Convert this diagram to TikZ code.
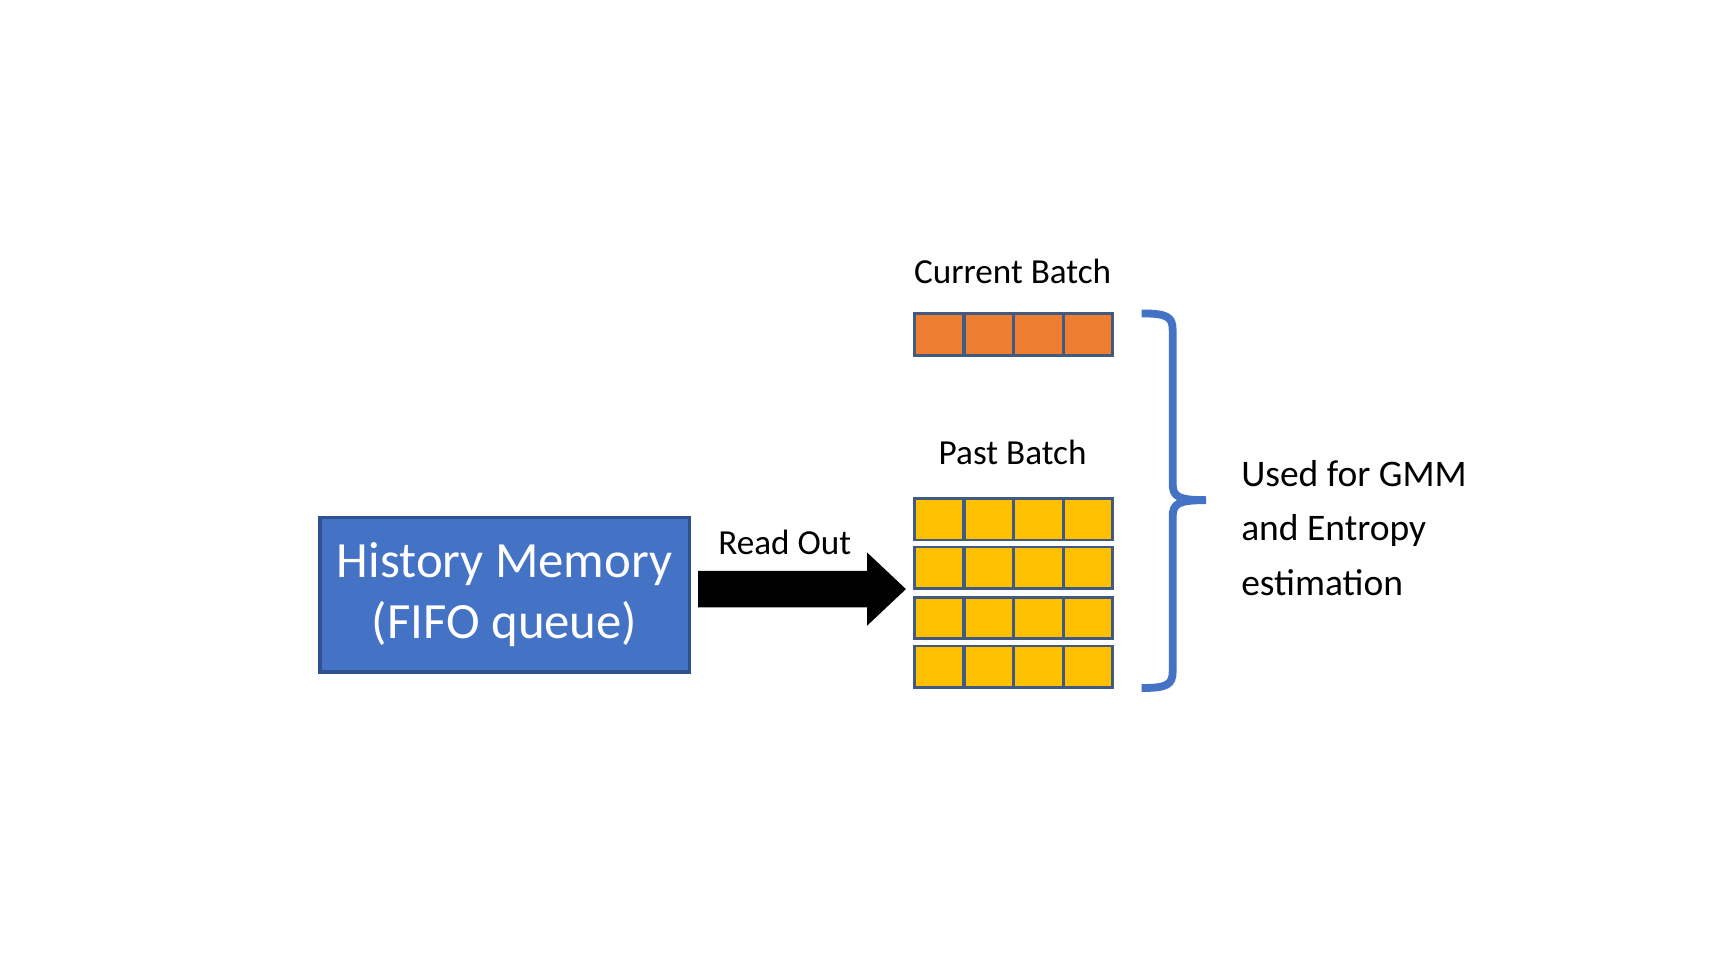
\documentclass[tikz,border=0pt]{standalone}
\usepackage{fontspec}
\setmainfont{Carlito}
\usetikzlibrary{positioning,calc}
\definecolor{memblue}{RGB}{68,114,196}
\definecolor{memedge}{RGB}{47,82,143}
\definecolor{curorange}{RGB}{237,125,49}
\definecolor{pastyellow}{RGB}{255,192,0}
\definecolor{celledge}{RGB}{65,90,130}

\tikzset{
  cell/.style={draw=celledge, line width=0.7pt, minimum width=0.44cm, minimum height=0.375cm, inner sep=0pt, outer sep=0pt},
  lbl/.style={font=\fontsize{9}{10}\selectfont, inner sep=0pt}
}

\begin{document}
\begin{tikzpicture}[x=0.01cm,y=0.01cm]
                \useasboundingbox (0,0) rectangle (1560,877);

                % History memory
                \node[draw=memedge, fill=memblue, line width=0.8pt, minimum width=3.32cm, minimum height=1.39cm,
                      text=white, align=center, font=\fontsize{13}{15.6}\selectfont] (mem) at (454,342)
                      {History Memory\\(FIFO queue)};

                % Read out arrow
                \coordinate (arrtail) at (628,347);
                \coordinate (arrtip) at (815,347);
                \fill[black] ($(arrtail)+(0,16.5)$) -- ($(arrtip)+(-35,16.5)$) -- ($(arrtip)+(-35,33)$) -- (arrtip)
                  -- ($(arrtip)+(-35,-33)$) -- ($(arrtip)+(-35,-16.5)$) -- ($(arrtail)+(0,-16.5)$) -- cycle;
                \node[lbl] (readout) at (706,389) {Read Out};

                % Current batch
                \node[lbl] (curlbl) at (911,633) {Current Batch};
                \foreach \i in {0,...,3}
                  \node[cell, fill=curorange] (cur\i) at (845+44.6*\i,576) {};

                % Past batch
                \node[lbl] (pastlbl) at (911,470) {Past Batch};
                \foreach \r/\yy in {0/410,1/366,2/321,3/277}
                  \foreach \i in {0,...,3}
                    \node[cell, fill=pastyellow] (past\r\i) at (845+44.6*\i,\yy) {};

                % Brace
                \coordinate (btop) at (1027,595);
                \coordinate (bbot) at (1027,258);
                \coordinate (btip) at (1085,427);
                \draw[memblue, line width=2pt]
                  (btop) .. controls (1050,595) and (1055,592) .. (1055,580)
                  -- (1055,442) .. controls (1055,430) and (1060,427) .. (btip)
                  (btip) .. controls (1060,427) and (1055,424) .. (1055,412)
                  -- (1055,273) .. controls (1055,261) and (1050,258) .. (bbot);

                % Usage text
                \node[lbl, anchor=west, align=left, font=\fontsize{9.6}{13.9}\selectfont] (usage) at (1116,402)
                  {Used for GMM\\and Entropy\\estimation};
            \end{tikzpicture}
\end{document}
